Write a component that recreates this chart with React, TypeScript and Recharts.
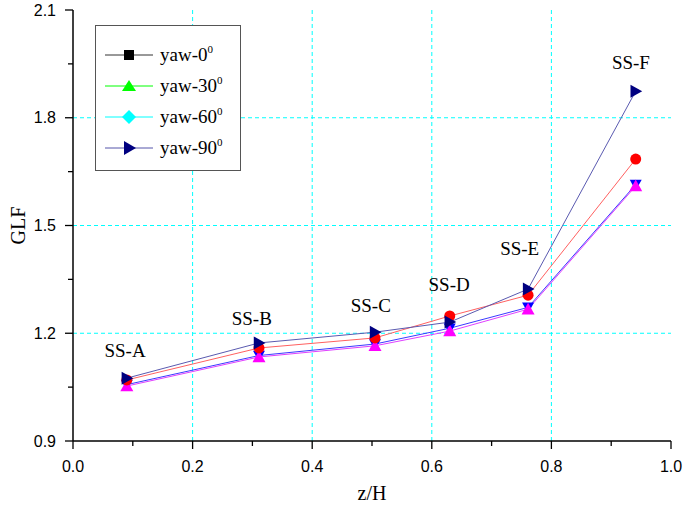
// GLF vs z/H along the station profile, four yaw angles
import { LineChart, Line, XAxis, YAxis, ReferenceLine, ReferenceDot, Legend } from 'recharts';

const zH = [0.09, 0.311, 0.505, 0.63, 0.761, 0.941];
const stations = ['SS-A', 'SS-B', 'SS-C', 'SS-D', 'SS-E', 'SS-F'];
const stationLabelX = [0.087, 0.299, 0.498, 0.629, 0.747, 0.933];
const stationLabelY = [1.153, 1.2425, 1.279, 1.337, 1.437, 1.955];

const glfRed = [1.07, 1.159, 1.187, 1.248, 1.306, 1.685];
const glfNavy = [1.075, 1.173, 1.203, 1.231, 1.323, 1.874];
const glfMagenta = [1.053, 1.134, 1.165, 1.206, 1.267, 1.61];
const glfBlue = [1.057, 1.138, 1.17, 1.214, 1.272, 1.614];

const legendNames = ['yaw-0', 'yaw-30', 'yaw-60', 'yaw-90'];

const xTicks = [0, 0.1, 0.2, 0.3, 0.4, 0.5, 0.6, 0.7, 0.8, 0.9, 1.0];
const xMajor = [0, 0.2, 0.4, 0.6, 0.8, 1.0];
const yTicks = [0.9, 1.05, 1.2, 1.35, 1.5, 1.65, 1.8, 1.95, 2.1];
const yMajor = [0.9, 1.2, 1.5, 1.8, 2.1];
const xGrid = [0.2, 0.4, 0.6, 0.8];
const yGrid = [1.2, 1.5, 1.8];

const data = zH.map((x, i) => ({
  x,
  red: glfRed[i],
  navy: glfNavy[i],
  magenta: glfMagenta[i],
  blue: glfBlue[i],
}));

const SERIF = '"Liberation Serif", "Times New Roman", serif';
const SANS = '"Liberation Sans", Arial, sans-serif';

type Side = 'bottom' | 'top' | 'left' | 'right';

function makeTick(side: Side, majors: number[]) {
  return (props: any) => {
    const { x, y, payload } = props;
    const v = payload.value as number;
    const major = majors.some((m) => Math.abs(m - v) < 1e-6);
    const len = major ? 8 : 5;
    const st = { stroke: '#000', strokeWidth: 1.3 };
    if (side === 'bottom') {
      return (
        <g>
          <line x1={x} y1={y} x2={x} y2={y + len} {...st} />
          {major && (
            <text x={x} y={y + 31} textAnchor="middle" fontSize={16} fontFamily={SANS} fill="#000">
              {v.toFixed(1)}
            </text>
          )}
        </g>
      );
    }
    if (side === 'top') return <line x1={x} y1={y} x2={x} y2={y + len} {...st} />;
    if (side === 'left') {
      return (
        <g>
          <line x1={x - len} y1={y} x2={x} y2={y} {...st} />
          {major && (
            <text x={x - 17} y={y + 5.5} textAnchor="end" fontSize={16} fontFamily={SANS} fill="#000">
              {v.toFixed(1)}
            </text>
          )}
        </g>
      );
    }
    return <line x1={x - len} y1={y} x2={x} y2={y} {...st} />;
  };
}

// marker shapes
const circle = (fill: string, r = 5.5) => (p: any) =>
  <circle key={`c${p.index}`} cx={p.cx} cy={p.cy} r={r} fill={fill} />;
const triUp = (fill: string, s = 6.5) => (p: any) => (
  <path key={`u${p.index}`} d={`M${p.cx},${p.cy - s} L${p.cx + s},${p.cy + s * 0.8} L${p.cx - s},${p.cy + s * 0.8} Z`} fill={fill} />
);
const triDown = (fill: string, s = 6) => (p: any) => (
  <path key={`d${p.index}`} d={`M${p.cx},${p.cy + s} L${p.cx + s},${p.cy - s * 0.8} L${p.cx - s},${p.cy - s * 0.8} Z`} fill={fill} />
);
const triRight = (fill: string, s = 6.5) => (p: any) => (
  <path key={`r${p.index}`} d={`M${p.cx + s},${p.cy} L${p.cx - s * 0.8},${p.cy - s} L${p.cx - s * 0.8},${p.cy + s} Z`} fill={fill} />
);

const legendLine = ['#333333', '#00ff00', '#00ffff', '#5555aa'];

function LegendMarker({ i, cx, cy }: { i: number; cx: number; cy: number }) {
  if (i === 0) return <rect x={cx - 5} y={cy - 5} width={10} height={10} fill="#000" />;
  if (i === 1) return <path d={`M${cx},${cy - 6} L${cx + 7},${cy + 5} L${cx - 7},${cy + 5} Z`} fill="#00ff00" />;
  if (i === 2) return <path d={`M${cx},${cy - 7} L${cx + 7},${cy} L${cx},${cy + 7} L${cx - 7},${cy} Z`} fill="#00ffff" />;
  return <path d={`M${cx + 7},${cy} L${cx - 5},${cy - 7} L${cx - 5},${cy + 7} Z`} fill="#000080" />;
}

function LegendBox() {
  return (
    <svg width={148} height={148} style={{ display: 'block' }}>
      <rect x={0.5} y={0.5} width={145} height={145} fill="#fff" stroke="#555" strokeWidth={1} />
      {legendNames.map((n, i) => {
        const cy = 30 + i * 31;
        return (
          <g key={n}>
            <line x1={10} y1={cy} x2={58} y2={cy} stroke={legendLine[i]} strokeWidth={1} />
            <LegendMarker i={i} cx={34} cy={cy} />
            <text x={65} y={cy + 6} fontSize={19} fontFamily={SERIF} fill="#000">
              {n}
              <tspan dy={-8} fontSize={11}>0</tspan>
            </text>
          </g>
        );
      })}
    </svg>
  );
}

export default function App() {
  return (
    <div style={{ position: 'absolute', left: 0, top: 0, background: '#fff' }}>
      <LineChart width={684} height={512} data={data} margin={{ top: 10, right: 13, bottom: 0, left: 0 }}>
        <XAxis
          xAxisId="b"
          type="number"
          dataKey="x"
          domain={[0, 1]}
          ticks={xTicks}
          interval={0}
          tickSize={0}
          tickMargin={0}
          tickLine={false}
          tick={makeTick('bottom', xMajor)}
          height={71}
          axisLine={{ stroke: '#000', strokeWidth: 1.5 }}
          label={{
            content: (p: any) => (
              <text x={p.viewBox.x + p.viewBox.width / 2} y={p.viewBox.y + 59} textAnchor="middle" fontSize={20} fontFamily={SERIF} fill="#000">
                z/H
              </text>
            ),
          }}
        />
        <XAxis
          xAxisId="t"
          orientation="top"
          type="number"
          dataKey="x"
          domain={[0, 1]}
          ticks={xTicks}
          interval={0}
          tickSize={0}
          tickMargin={0}
          tickLine={false}
          tick={makeTick('top', xMajor)}
          height={0}
          axisLine={{ stroke: '#000', strokeWidth: 1.5 }}
        />
        <YAxis
          yAxisId="l"
          type="number"
          domain={[0.9, 2.1]}
          ticks={yTicks}
          interval={0}
          tickSize={0}
          tickMargin={0}
          tickLine={false}
          tick={makeTick('left', yMajor)}
          width={73}
          axisLine={{ stroke: '#000', strokeWidth: 1.5 }}
          label={{
            content: (p: any) => {
              const cx = p.viewBox.x + 25;
              const cy = p.viewBox.y + p.viewBox.height / 2;
              return (
                <text x={cx} y={cy} transform={`rotate(-90, ${cx}, ${cy})`} textAnchor="middle" fontSize={20} fontFamily={SERIF} fill="#000">
                  GLF
                </text>
              );
            },
          }}
        />
        <YAxis
          yAxisId="r"
          orientation="right"
          type="number"
          domain={[0.9, 2.1]}
          ticks={yTicks}
          interval={0}
          tickSize={0}
          tickMargin={0}
          tickLine={false}
          tick={makeTick('right', yMajor)}
          width={0}
          axisLine={{ stroke: '#000', strokeWidth: 1.5 }}
        />
        {xGrid.map((g) => (
          <ReferenceLine key={`gx${g}`} xAxisId="b" yAxisId="l" x={g} stroke="#00ffff" strokeDasharray="4 3" strokeWidth={1} />
        ))}
        {yGrid.map((g) => (
          <ReferenceLine key={`gy${g}`} xAxisId="b" yAxisId="l" y={g} stroke="#00ffff" strokeDasharray="4 3" strokeWidth={1} />
        ))}
        <Line xAxisId="b" yAxisId="l" dataKey="blue" stroke="#3a3aff" strokeWidth={1} dot={triDown('#0000ff')} isAnimationActive={false} />
        <Line xAxisId="b" yAxisId="l" dataKey="magenta" stroke="#e040ff" strokeWidth={1} dot={triUp('#ff00ff')} isAnimationActive={false} />
        <Line xAxisId="b" yAxisId="l" dataKey="red" stroke="#ff6060" strokeWidth={1} dot={circle('#ff0000')} isAnimationActive={false} />
        <Line xAxisId="b" yAxisId="l" dataKey="navy" stroke="#5a5ab0" strokeWidth={1} dot={triRight('#000080')} isAnimationActive={false} />
        {stations.map((s, i) => (
          <ReferenceDot
            key={s}
            xAxisId="b"
            yAxisId="l"
            x={stationLabelX[i]}
            y={stationLabelY[i]}
            r={0}
            fill="none"
            stroke="none"
            label={{ value: s, position: 'center', fontSize: 19, fontFamily: SERIF, fill: '#000' }}
          />
        ))}
        <Legend
          layout="horizontal"
          verticalAlign="middle"
          align="center"
          content={() => <LegendBox />}
          wrapperStyle={{ left: 95, top: 25, width: 148, height: 148 }}
        />
      </LineChart>
    </div>
  );
}
